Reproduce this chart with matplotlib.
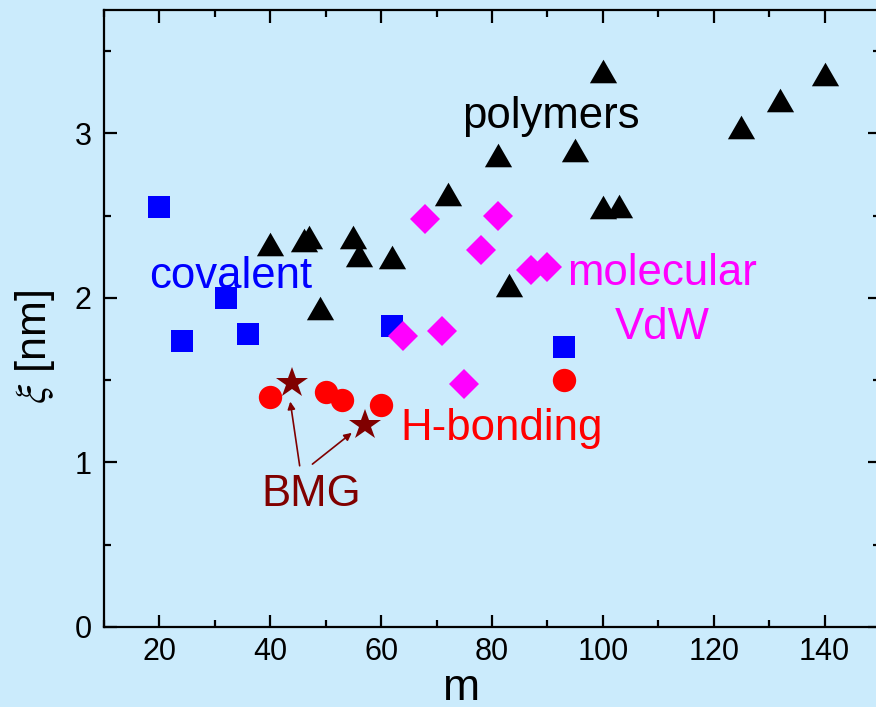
import matplotlib
matplotlib.use("Agg")
import matplotlib.pyplot as plt
from matplotlib.ticker import MultipleLocator

BG = "#cbebfc"
plt.rcParams["font.family"] = ["Liberation Sans", "DejaVu Sans"]
plt.rcParams["mathtext.fontset"] = "stix"

# covalent glasses (blue squares)
cov_m = [20, 24, 32, 36, 62, 93]
cov_xi = [2.55, 1.74, 2.00, 1.78, 1.83, 1.70]

# polymers (black triangles)
pol_m = [40, 46, 47, 49, 55, 56, 62, 72, 81, 83, 95, 100, 100, 103, 125, 132, 140]
pol_xi = [2.33, 2.35, 2.37, 1.94, 2.37, 2.26, 2.25, 2.63, 2.87, 2.08, 2.90,
          3.38, 2.55, 2.56, 3.04, 3.20, 3.36]

# H-bonding (red circles)
hb_m = [40, 50, 53, 60, 93]
hb_xi = [1.40, 1.43, 1.38, 1.35, 1.50]

# molecular VdW (magenta diamonds)
vdw_m = [64, 68, 71, 75, 78, 81, 87, 90]
vdw_xi = [1.77, 2.48, 1.80, 1.475, 2.29, 2.50, 2.17, 2.19]

# bulk metallic glasses (dark red stars)
bmg_m = [44, 57]
bmg_xi = [1.48, 1.23]

# arrows from the BMG label to the stars: (tail, head)
bmg_arrows = [((45.3, 0.98), (43.6, 1.37)), ((47.6, 0.99), (54.7, 1.18))]

tri = [(0, 0.866), (-1, -0.866), (1, -0.866)]

fig = plt.figure(figsize=(8.76, 7.07), dpi=100)
fig.patch.set_facecolor(BG)
ax = fig.add_axes([104 / 876, 80 / 707, 776 / 876, 617 / 707])
ax.set_facecolor(BG)

ax.plot(cov_m, cov_xi, ls="none", marker="s", ms=15.3, color="#0000ff", mew=0)
ax.plot(pol_m, pol_xi, ls="none", marker=tri, ms=19.6, color="black", mew=0)
ax.plot(hb_m, hb_xi, ls="none", marker="o", ms=16.8, color="#ff0000", mew=0)
ax.plot(vdw_m, vdw_xi, ls="none", marker="D", ms=14.8, color="#ff00ff", mew=0)
ax.plot(bmg_m, bmg_xi, ls="none", marker="*", ms=23.5, color="#800000", mew=0)

for tail, head in bmg_arrows:
    ax.annotate("", xy=head, xytext=tail,
                arrowprops=dict(arrowstyle="-|>", color="#800000", lw=1.2,
                                mutation_scale=11, shrinkA=0, shrinkB=0))

fs = 31.5
ax.text(90.6, 3.03, "polymers", color="black", fontsize=fs, ha="center", va="baseline")
ax.text(32.9, 2.06, "covalent", color="#0000ff", fontsize=fs, ha="center", va="baseline")
ax.text(110.7, 2.077, "molecular", color="#ff00ff", fontsize=fs, ha="center", va="baseline")
ax.text(110.7, 1.75, "VdW", color="#ff00ff", fontsize=fs, ha="center", va="baseline")
ax.text(81.7, 1.135, "H-bonding", color="#ff0000", fontsize=fs, ha="center", va="baseline")
ax.text(47.3, 0.735, "BMG", color="#800000", fontsize=fs, ha="center", va="baseline")

ax.set_xlim(10, 150)
ax.set_ylim(0, 3.75)
ax.xaxis.set_major_locator(MultipleLocator(20))
ax.xaxis.set_minor_locator(MultipleLocator(10))
ax.yaxis.set_major_locator(MultipleLocator(1))
ax.yaxis.set_minor_locator(MultipleLocator(0.5))
ax.tick_params(which="both", direction="in", top=True, right=True, width=1.6,
               labelsize=22)
ax.tick_params(axis="y", which="both", pad=9)
ax.tick_params(axis="x", which="both", pad=7)
ax.tick_params(which="major", length=9)
ax.tick_params(which="minor", length=5)
for sp in ax.spines.values():
    sp.set_linewidth(1.6)

fig.text(462 / 876, 1 - 700 / 707, "m", fontsize=32, ha="center", va="baseline")
fig.text(35 / 876, 1 - 347 / 707, r"$\xi$ [nm]", fontsize=31, rotation=90,
         ha="center", va="center")

fig.savefig("out.png", dpi=100, facecolor=BG)
